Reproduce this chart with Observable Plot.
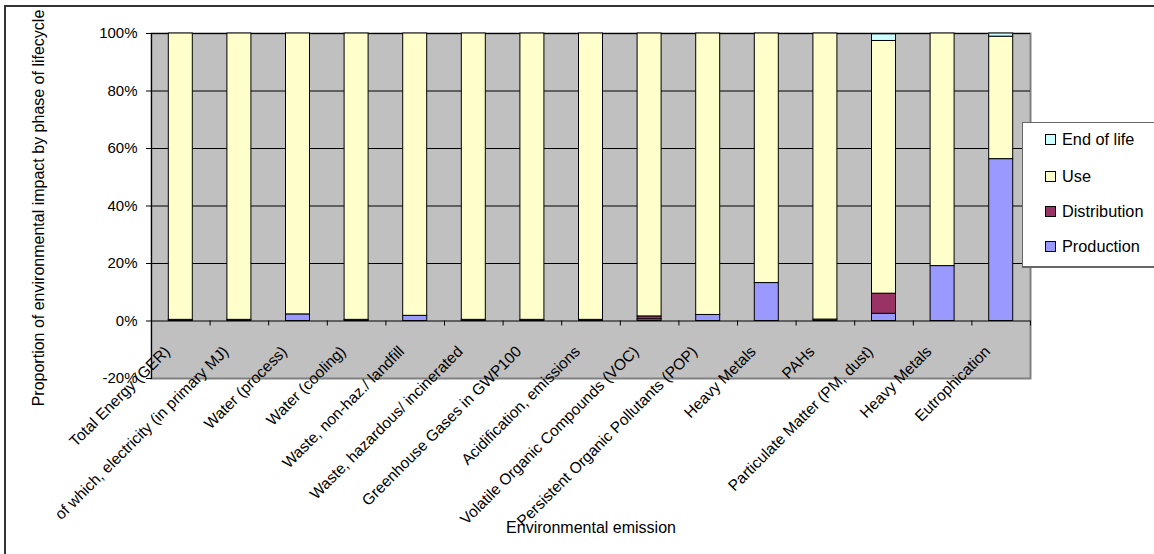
<!DOCTYPE html>
<html>
<head>
<meta charset="utf-8">
<script src="https://cdn.jsdelivr.net/npm/d3@7"></script>
<script src="https://cdn.jsdelivr.net/npm/@observablehq/plot@0.6"></script>
<style>
  html, body { margin: 0; padding: 0; background: #fff; overflow: hidden; }
  #chart { position: relative; width: 1154px; height: 554px; overflow: hidden; font-family: "Liberation Sans", Arial, sans-serif; }
  #chart svg { position: absolute; left: 0; top: 0; }
  .outer { position: absolute; left: 4px; top: 5px; width: 1300px; height: 700px; border-left: 2px solid #333; border-top: 2px solid #333; pointer-events: none; }
  .legend { position: absolute; left: 1022px; top: 122px; width: 160px; height: 143px; background: #fff; border: 1px solid #666; border-bottom-width: 2px; }
  .legend .item { position: absolute; left: 22px; height: 20px; display: flex; align-items: center; font-size: 16.3px; color: #000; }
  .legend .sw { width: 9px; height: 9px; border: 1px solid #000; margin-right: 6px; }
</style>
</head>
<body>
<div id="chart"></div>
<script>
// Environmental emission categories (two distinct "Heavy Metals" entries)
const categories = [
  "Total Energy (GER)",
  "of which, electricity (in primary MJ)",
  "Water (process)",
  "Water (cooling)",
  "Waste, non-haz./ landfill",
  "Waste, hazardous/ incinerated",
  "Greenhouse Gases in GWP100",
  "Acidification, emissions",
  "Volatile Organic Compounds (VOC)",
  "Persistent Organic Pollutants (POP)",
  "Heavy Metals",
  "PAHs",
  "Particulate Matter (PM, dust)",
  "Heavy Metals",
  "Eutrophication"
];

// Share of impact (%) per lifecycle phase
const production   = [0,   0,   2.3, 0,   1.8, 0,   0,   0,   0.6, 2.1, 13.2, 0,   2.5, 19.1, 56.3];
const distribution = [0.4, 0.4, 0,   0.4, 0,   0.4, 0.4, 0.4, 1.0, 0,   0,    0.5, 7.0, 0,    0];
const endOfLife    = [0,   0,   0,   0,   0,   0,   0,   0,   0,   0,   0,    0,   2.3, 0,    1.1];
const use          = [99.6, 99.6, 97.7, 99.6, 98.2, 99.6, 99.6, 99.6, 98.4, 97.9, 86.8, 99.5, 87.9, 80.9, 42.6];

const phases = ["Production", "Distribution", "Use", "End of life"];
const phaseColors = ["#9999FF", "#993366", "#FFFFCC", "#CCFFFF"];
const yTicks = [-20, 0, 20, 40, 60, 80, 100];

const xTitle = "Environmental emission";
const yTitle = "Proportion of environmental impact by phase of lifecycle";

// long table for stacking
const series = [production, distribution, use, endOfLife];
const rows = [];
categories.forEach((c, i) => {
  phases.forEach((p, k) => {
    if (series[k][i] > 0) rows.push({idx: i, phase: p, value: series[k][i]});
  });
});

const W = 1154, H = 554;
const mL = 151, mR = 124, mT = 33, mB = 176;
const step = (W - mL - mR) / categories.length;
const barInset = (step - 24) / 2;
const idx = d3.range(categories.length);
const font = "Liberation Sans, Arial, sans-serif";

const chart = Plot.plot({
  width: W,
  height: H,
  marginLeft: mL,
  marginRight: mR,
  marginTop: mT,
  marginBottom: mB,
  style: {fontFamily: font, color: "#000", background: "transparent", overflow: "visible"},
  x: {type: "band", domain: idx, padding: 0, round: false, axis: null},
  y: {domain: [-20, 100], axis: null},
  color: {domain: phases, range: phaseColors},
  marks: [
    Plot.frame({fill: "#C0C0C0"}),
    Plot.frame({stroke: "#808080", strokeWidth: 2}),
    Plot.gridY([20, 40, 60, 80, 100], {stroke: "#000", strokeOpacity: 1, strokeWidth: 1}),
    Plot.barY(rows, Plot.stackY({
      x: "idx", y: "value", fill: "phase", order: phases,
      stroke: "#000", strokeWidth: 1,
      insetLeft: barInset, insetRight: barInset
    })),
    Plot.ruleY([0], {stroke: "#000", strokeWidth: 1}),
    Plot.frame({anchor: "left", stroke: "#000", strokeWidth: 1}),
    // category boundary ticks below the zero line
    Plot.ruleX(idx, {x: d => d, y1: 0, y2: 0, insetBottom: -5, dx: -step / 2, stroke: "#000"}),
    Plot.ruleX([idx[idx.length - 1]], {x: d => d, y1: 0, y2: 0, insetBottom: -5, dx: step / 2, stroke: "#000"}),
    Plot.axisY({
      ticks: yTicks, tickFormat: d => d + "%", tickSize: 5, tickPadding: 9,
      fontSize: 15, stroke: "#000", fill: "#000", label: null
    }),
    // rotated category labels
    Plot.text(idx, {
      x: d => d, frameAnchor: "bottom", text: d => categories[d],
      rotate: -45, textAnchor: "end", lineAnchor: "bottom",
      dx: -10, dy: -26, fontSize: 15.5, fill: "#000"
    }),
    Plot.text([xTitle], {
      frameAnchor: "bottom", text: d => d, lineAnchor: "middle",
      dy: 149, fontSize: 16, fill: "#000"
    }),
    Plot.text([yTitle], {
      frameAnchor: "left", text: d => d, rotate: -90, lineAnchor: "bottom",
      textAnchor: "middle", dx: -108, dy: 2, fontSize: 16, fill: "#000"
    })
  ]
});

const root = document.getElementById("chart");
root.appendChild(chart);

// outer chart border
const outer = document.createElement("div");
outer.className = "outer";
root.appendChild(outer);

// legend, top entry = last phase
const legend = document.createElement("div");
legend.className = "legend";
const legendTops = [6, 43, 78, 113];
phases.slice().reverse().forEach((p, k) => {
  const item = document.createElement("div");
  item.className = "item";
  item.style.top = legendTops[k] + "px";
  const sw = document.createElement("span");
  sw.className = "sw";
  sw.style.background = phaseColors[phases.indexOf(p)];
  const label = document.createElement("span");
  label.textContent = p;
  item.appendChild(sw);
  item.appendChild(label);
  legend.appendChild(item);
});
root.appendChild(legend);
</script>
</body>
</html>
